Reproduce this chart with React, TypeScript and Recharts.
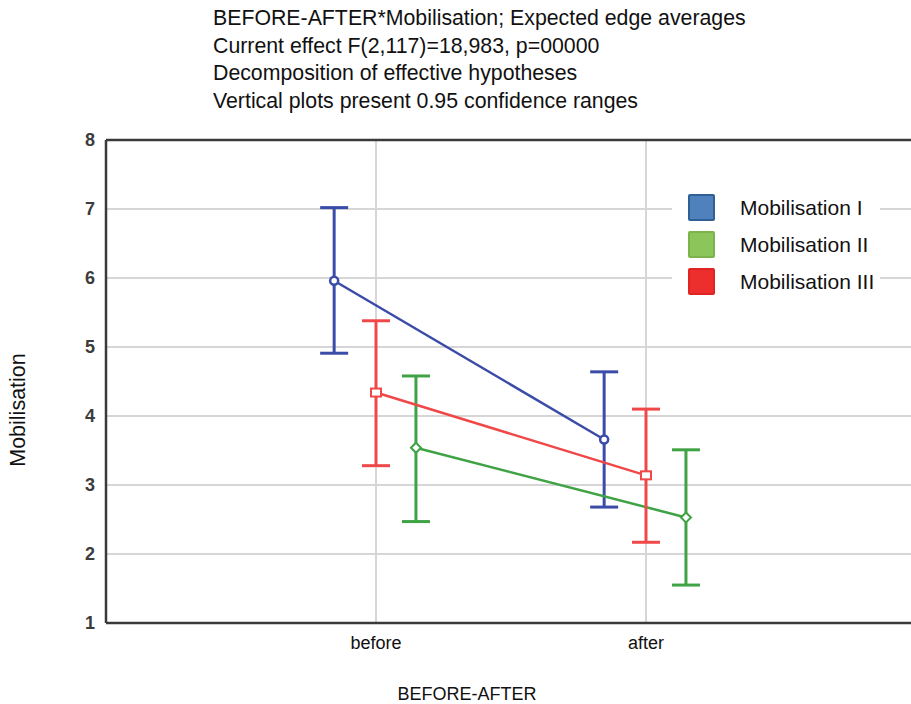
import React from "react";
import {
  ComposedChart,
  Line,
  ErrorBar,
  XAxis,
  YAxis,
  CartesianGrid,
  ReferenceLine,
} from "recharts";

// chart values
const categories = ["before", "after"];
const seriesNames = ["Mobilisation I", "Mobilisation II", "Mobilisation III"];

const meanI = [5.96, 3.66];
const lowI = [4.91, 2.68];
const highI = [7.02, 4.64];

const meanII = [3.54, 2.53];
const lowII = [2.47, 1.55];
const highII = [4.58, 3.51];

const meanIII = [4.34, 3.14];
const lowIII = [3.28, 2.17];
const highIII = [5.38, 4.1];

const yTicks = [1, 2, 3, 4, 5, 6, 7, 8];
const titleLines = [
  "BEFORE-AFTER*Mobilisation; Expected edge averages",
  "Current effect F(2,117)=18,983, p=00000",
  "Decomposition of effective hypotheses",
  "Vertical plots present 0.95 confidence ranges",
];

const FONT = "'Liberation Sans', Arial, sans-serif";

type Marker = "circle" | "diamond" | "square";

const series = [
  { name: seriesNames[0], mean: meanI, low: lowI, high: highI, color: "#3b4ba8", legend: "#4f81bd", border: "#2f5f95", marker: "circle" as Marker, dodge: -0.155 },
  { name: seriesNames[1], mean: meanII, low: lowII, high: highII, color: "#3fa345", legend: "#8cc55a", border: "#7db34c", marker: "diamond" as Marker, dodge: 0.148 },
  { name: seriesNames[2], mean: meanIII, low: lowIII, high: highIII, color: "#f04848", legend: "#ee2d2d", border: "#e02424", marker: "square" as Marker, dodge: 0 },
];

const buildData = (s: typeof series[number]) =>
  categories.map((_, i) => ({
    x: i + 1 + s.dodge,
    y: s.mean[i],
    err: [s.mean[i] - s.low[i], s.high[i] - s.mean[i]],
  }));

const makeDot = (marker: Marker, color: string) => (props: any) => {
  const { cx, cy, key } = props;
  if (cx == null || cy == null) return <g key={key} />;
  if (marker === "circle") {
    return <circle key={key} cx={cx} cy={cy} r={4} fill="#fff" stroke={color} strokeWidth={2.5} />;
  }
  if (marker === "square") {
    return <rect key={key} x={cx - 5} y={cy - 4} width={10} height={8} fill="#fff" stroke={color} strokeWidth={2} />;
  }
  return (
    <path
      key={key}
      d={`M${cx},${cy - 5} L${cx + 5},${cy} L${cx},${cy + 5} L${cx - 5},${cy} Z`}
      fill="#fff"
      stroke={color}
      strokeWidth={2}
    />
  );
};

export default function App() {
  return (
    <div
      style={{
        position: "absolute",
        left: 0,
        top: 0,
        width: 911,
        height: 704,
        overflow: "hidden",
        background: "#fff",
        fontFamily: FONT,
      }}
    >
      <div style={{ position: "absolute", left: 213, top: 5, fontSize: 21.3, lineHeight: "27.7px", color: "#111" }}>
        {titleLines.map((t) => (
          <div key={t}>{t}</div>
        ))}
      </div>

      <ComposedChart
        width={920}
        height={704}
        margin={{ top: 140, right: 4, bottom: 51, left: 0 }}
      >
        <CartesianGrid stroke="#d6d6d6" strokeWidth={2} />
        <XAxis
          dataKey="x"
          type="number"
          domain={[0, 3]}
          ticks={[1, 2]}
          tickFormatter={(v) => categories[Math.round(v) - 1] ?? ""}
          height={30}
          tickSize={0}
          tickMargin={13}
          tick={{ fontSize: 18, fill: "#111", fontFamily: FONT }}
          axisLine={{ stroke: "#3a3a3a", strokeWidth: 2.5 }}
          tickLine={false}
        />
        <YAxis
          type="number"
          domain={[1, 8]}
          ticks={yTicks}
          width={106}
          tickSize={0}
          tickMargin={11}
          tick={{ fontSize: 18, fill: "#3c3c3c", fontWeight: "bold", fontFamily: FONT }}
          axisLine={{ stroke: "#3a3a3a", strokeWidth: 2.5 }}
          tickLine={false}
        />
        <ReferenceLine y={8} stroke="#3a3a3a" strokeWidth={2.5} />
        {series.map((s) => (
          <Line
            key={s.name}
            name={s.name}
            data={buildData(s)}
            dataKey="y"
            type="linear"
            stroke={s.color}
            strokeWidth={2.5}
            dot={makeDot(s.marker, s.color)}
            activeDot={false}
            isAnimationActive={false}
          >
            <ErrorBar
              dataKey="err"
              direction="y"
              width={14}
              stroke={s.color}
              strokeWidth={3}
              isAnimationActive={false}
            />
          </Line>
        ))}
      </ComposedChart>

      <div
        style={{
          position: "absolute",
          left: 672,
          top: 188,
          width: 208,
          height: 112,
          background: "#fff",
        }}
      >
        {series.map((s, i) => (
          <div
            key={s.name}
            style={{ position: "absolute", left: 0, top: 6 + i * 37, height: 27, display: "flex", alignItems: "center" }}
          >
            <div
              style={{
                marginLeft: 16,
                width: 23,
                height: 23,
                background: s.legend,
                border: `2px solid ${s.border}`,
                borderRadius: 2,
              }}
            />
            <span style={{ marginLeft: 25, fontSize: 21, color: "#111" }}>{s.name}</span>
          </div>
        ))}
      </div>

      <div
        style={{
          position: "absolute",
          left: 18,
          top: 410,
          transform: "translate(-50%, -50%) rotate(-90deg)",
          fontSize: 21.5,
          color: "#111",
          whiteSpace: "nowrap",
        }}
      >
        Mobilisation
      </div>
      <div
        style={{
          position: "absolute",
          left: 467,
          top: 694,
          transform: "translate(-50%, -50%)",
          fontSize: 18,
          color: "#111",
          whiteSpace: "nowrap",
        }}
      >
        BEFORE-AFTER
      </div>
    </div>
  );
}
